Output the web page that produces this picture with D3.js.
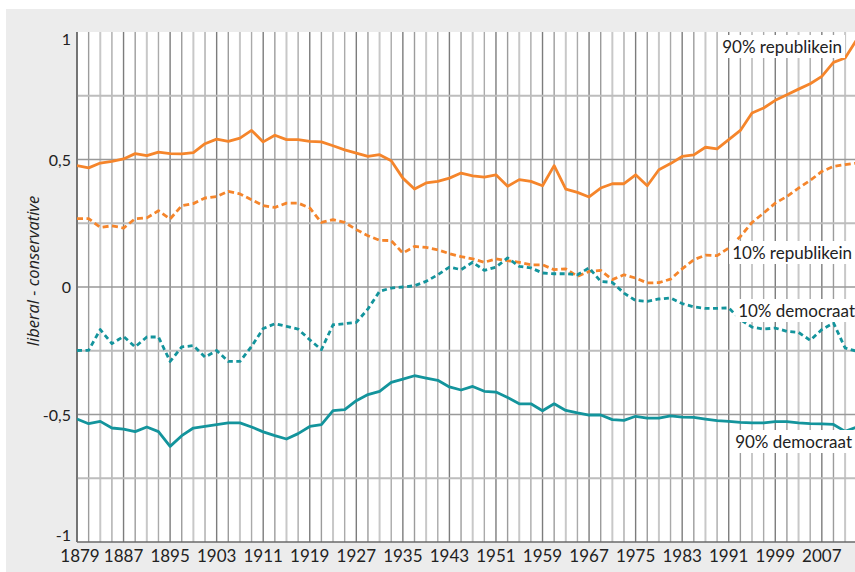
<!DOCTYPE html>
<html>
<head>
<meta charset="utf-8">
<script src="https://cdn.jsdelivr.net/npm/d3@7"></script>
<style>
  body { margin: 0; background: #fff; }
  svg { display: block; }
  text { font-family: Lato, "Open Sans", sans-serif; fill: #222; }
</style>
</head>
<body>
<div class="chart-container"></div>
<script>

// congress years (every 2 years)
var years = [1879,1881,1883,1885,1887,1889,1891,1893,1895,1897,1899,1901,1903,1905,1907,1909,1911,
	1913,1915,1917,1919,1921,1923,1925,1927,1929,1931,1933,1935,1937,1939,1941,1943,
	1945,1947,1949,1951,1953,1955,1957,1959,1961,1963,1965,1967,1969,1971,1973,1975,
	1977,1979,1981,1983,1985,1987,1989,1991,1993,1995,1997,1999,2001,2003,2005,2007,2009,2011,2013];

var rep90 = [0.476,0.467,0.486,0.493,0.502,0.523,0.515,0.529,0.523,0.522,0.527,0.562,0.580,0.571,0.584,0.614,0.569,
	0.595,0.578,0.578,0.571,0.569,0.554,0.538,0.525,0.512,0.519,0.495,0.427,0.384,0.408,0.414,0.427,
	0.447,0.436,0.431,0.440,0.395,0.421,0.414,0.397,0.476,0.384,0.371,0.353,0.388,0.405,0.405,0.440,
	0.397,0.460,0.484,0.512,0.518,0.548,0.542,0.578,0.614,0.682,0.702,0.732,0.754,0.776,0.797,0.826,0.881,0.898,0.970];

var rep10 = [0.268,0.268,0.234,0.240,0.231,0.268,0.271,0.299,0.267,0.319,0.327,0.349,0.355,0.375,0.365,0.342,0.319,
	0.312,0.329,0.329,0.310,0.253,0.264,0.253,0.225,0.201,0.183,0.182,0.133,0.159,0.155,0.146,0.131,
	0.119,0.110,0.097,0.110,0.103,0.097,0.087,0.087,0.068,0.071,0.042,0.061,0.065,0.029,0.048,0.035,
	0.016,0.017,0.031,0.071,0.107,0.125,0.123,0.153,0.198,0.253,0.290,0.329,0.355,0.388,0.418,0.453,0.473,0.480,0.486];

var dem10 = [-0.249,-0.248,-0.167,-0.222,-0.194,-0.235,-0.196,-0.196,-0.292,-0.235,-0.230,-0.275,-0.249,-0.292,-0.292,-0.233,-0.163,
	-0.144,-0.154,-0.165,-0.207,-0.246,-0.148,-0.144,-0.139,-0.086,-0.017,-0.004,0.000,0.005,0.022,0.048,0.078,
	0.068,0.097,0.065,0.078,0.114,0.081,0.075,0.055,0.052,0.052,0.048,0.075,0.022,0.018,-0.024,-0.053,
	-0.056,-0.047,-0.043,-0.065,-0.078,-0.084,-0.084,-0.082,-0.128,-0.157,-0.165,-0.161,-0.174,-0.178,-0.209,-0.167,-0.141,-0.239,-0.252];

var dem90 = [-0.518,-0.536,-0.527,-0.553,-0.557,-0.567,-0.549,-0.567,-0.625,-0.583,-0.553,-0.547,-0.540,-0.533,-0.533,-0.549,-0.568,
	-0.583,-0.596,-0.575,-0.547,-0.540,-0.485,-0.481,-0.446,-0.422,-0.409,-0.374,-0.361,-0.348,-0.357,-0.366,-0.392,
	-0.404,-0.390,-0.409,-0.412,-0.433,-0.458,-0.458,-0.485,-0.458,-0.484,-0.494,-0.502,-0.502,-0.520,-0.523,-0.507,
	-0.514,-0.514,-0.505,-0.510,-0.511,-0.518,-0.524,-0.527,-0.531,-0.533,-0.533,-0.528,-0.528,-0.533,-0.536,-0.537,-0.539,-0.566,-0.549];

var seriesNames = ["90% republikein", "10% republikein", "10% democraat", "90% democraat"];

var xTickYears = [1879,1887,1895,1903,1911,1919,1927,1935,1943,1951,1959,1967,1975,1983,1991,1999,2007];
var yTickValues = [1, 0.5, 0, -0.5, -1];
var yTickLabels = ["1", "0,5", "0", "-0,5", "-1"];
var yGridValues = [0.75, 0.5, 0.25, 0, -0.25, -0.5, -0.75];

var W = 855, H = 572;
var plot = {left: 77, right: 855, top: 32, bottom: 542};

var orange = "#f5852b",
	 teal = "#13949c";

var x = d3.scaleLinear()
	 .domain([1879, 2012.7])
	 .range([plot.left, plot.right]);

var y = d3.scaleLinear()
	 .domain([-1, 1])
	 .range([plot.bottom, plot.top]);

var svg = d3.select(".chart-container").append("svg")
	 .attr("width", W)
	 .attr("height", H);

// grey panel
svg.append("rect")
	 .attr("x", 6).attr("y", 9)
	 .attr("width", W - 6).attr("height", H - 9)
	 .attr("fill", "#ececec");

svg.append("rect")
	 .attr("x", plot.left).attr("y", plot.top)
	 .attr("width", plot.right - plot.left).attr("height", plot.bottom - plot.top)
	 .attr("fill", "#fff");

svg.append("clipPath").attr("id", "clip")
	.append("rect")
	 .attr("x", plot.left).attr("y", plot.top - 3)
	 .attr("width", plot.right - plot.left).attr("height", plot.bottom - plot.top + 6);

// vertical grid, one line per congress
var vShade = ["#7c7c7c", "#9c9c9c", "#c8c8c8", "#aaaaaa"];
svg.append("g")
	 .selectAll("line")
	 .data(years.filter(function(d) { return x(d) <= plot.right; }))
	 .enter().append("line")
	 .attr("x1", function(d) { return x(d); })
	 .attr("x2", function(d) { return x(d); })
	 .attr("y1", plot.top)
	 .attr("y2", plot.bottom)
	 .attr("stroke", function(d, i) { return vShade[i % 4]; })
	 .attr("stroke-width", function(d, i) { return i % 4 == 2 ? 2 : 1.4; });

// horizontal grid
svg.append("g")
	 .selectAll("line")
	 .data(yGridValues)
	 .enter().append("line")
	 .attr("x1", plot.left)
	 .attr("x2", plot.right)
	 .attr("y1", function(d) { return y(d); })
	 .attr("y2", function(d) { return y(d); })
	 .attr("stroke", function(d) { return (d * 2) % 1 == 0 ? "#999" : "#bdbdbd"; })
	 .attr("stroke-width", function(d) { return (d * 2) % 1 == 0 ? 1.4 : 2; });

// axis lines
svg.append("line")
	 .attr("x1", plot.left).attr("x2", plot.left)
	 .attr("y1", plot.top).attr("y2", plot.bottom)
	 .attr("stroke", "#6a6a6a").attr("stroke-width", 1.6);
svg.append("line")
	 .attr("x1", plot.left).attr("x2", plot.right)
	 .attr("y1", plot.bottom).attr("y2", plot.bottom)
	 .attr("stroke", "#6a6a6a").attr("stroke-width", 1.6);

// tick labels
svg.append("g")
	 .selectAll("text")
	 .data(xTickYears)
	 .enter().append("text")
	 .attr("x", function(d, i) { return x(d) + (i == 0 ? 3 : 0); })
	 .attr("y", 562)
	 .attr("text-anchor", "middle")
	 .style("font-size", "17px")
	 .text(function(d) { return d; });

svg.append("g")
	 .selectAll("text")
	 .data(yTickValues)
	 .enter().append("text")
	 .attr("x", 71)
	 .attr("y", function(d) {
		 var p = y(d) + 6;
		 if (d == 1) p = y(d) + 13;
		 if (d == -1) p = y(d) - 1;
		 return p;
	 })
	 .attr("text-anchor", "end")
	 .style("font-size", "16px")
	 .text(function(d, i) { return yTickLabels[i]; });

svg.append("text")
	 .attr("transform", "translate(39,271) rotate(-90)")
	 .attr("text-anchor", "middle")
	 .style("font-family", "'Open Sans', sans-serif")
	 .style("font-size", "16.5px")
	 .style("font-style", "italic")
	 .text("liberal - conservative");

// series lines
var lineGen = d3.line()
	 .x(function(d, i) { return x(years[i]); })
	 .y(function(d) { return y(d); });

var series = [
	{values: rep90, color: orange, dash: null},
	{values: rep10, color: orange, dash: "6,3.5"},
	{values: dem10, color: teal, dash: "5,3.5"},
	{values: dem90, color: teal, dash: null}
];

svg.append("g")
	 .attr("clip-path", "url(#clip)")
	 .selectAll("path")
	 .data(series)
	 .enter().append("path")
	 .attr("d", function(d) { return lineGen(d.values); })
	 .attr("fill", "none")
	 .attr("stroke", function(d) { return d.color; })
	 .attr("stroke-width", 2.8)
	 .attr("stroke-linejoin", "round")
	 .attr("stroke-dasharray", function(d) { return d.dash; });

// series labels with white boxes
var labelPos = [[842, 53], [852, 259], [855, 317], [852, 448]];

var labels = svg.append("g")
	 .selectAll("g")
	 .data(seriesNames)
	 .enter().append("g");

labels.append("text")
	 .attr("x", function(d, i) { return labelPos[i][0]; })
	 .attr("y", function(d, i) { return labelPos[i][1]; })
	 .attr("text-anchor", "end")
	 .style("font-size", "17px")
	 .text(function(d) { return d; });

labels.each(function() {
	var g = d3.select(this),
		 b = g.select("text").node().getBBox();
	g.insert("rect", "text")
		 .attr("x", b.x - 3)
		 .attr("y", b.y - 1)
		 .attr("width", b.width + 6)
		 .attr("height", b.height + 2)
		 .attr("fill", "#fff");
});

</script>
</body>
</html>
